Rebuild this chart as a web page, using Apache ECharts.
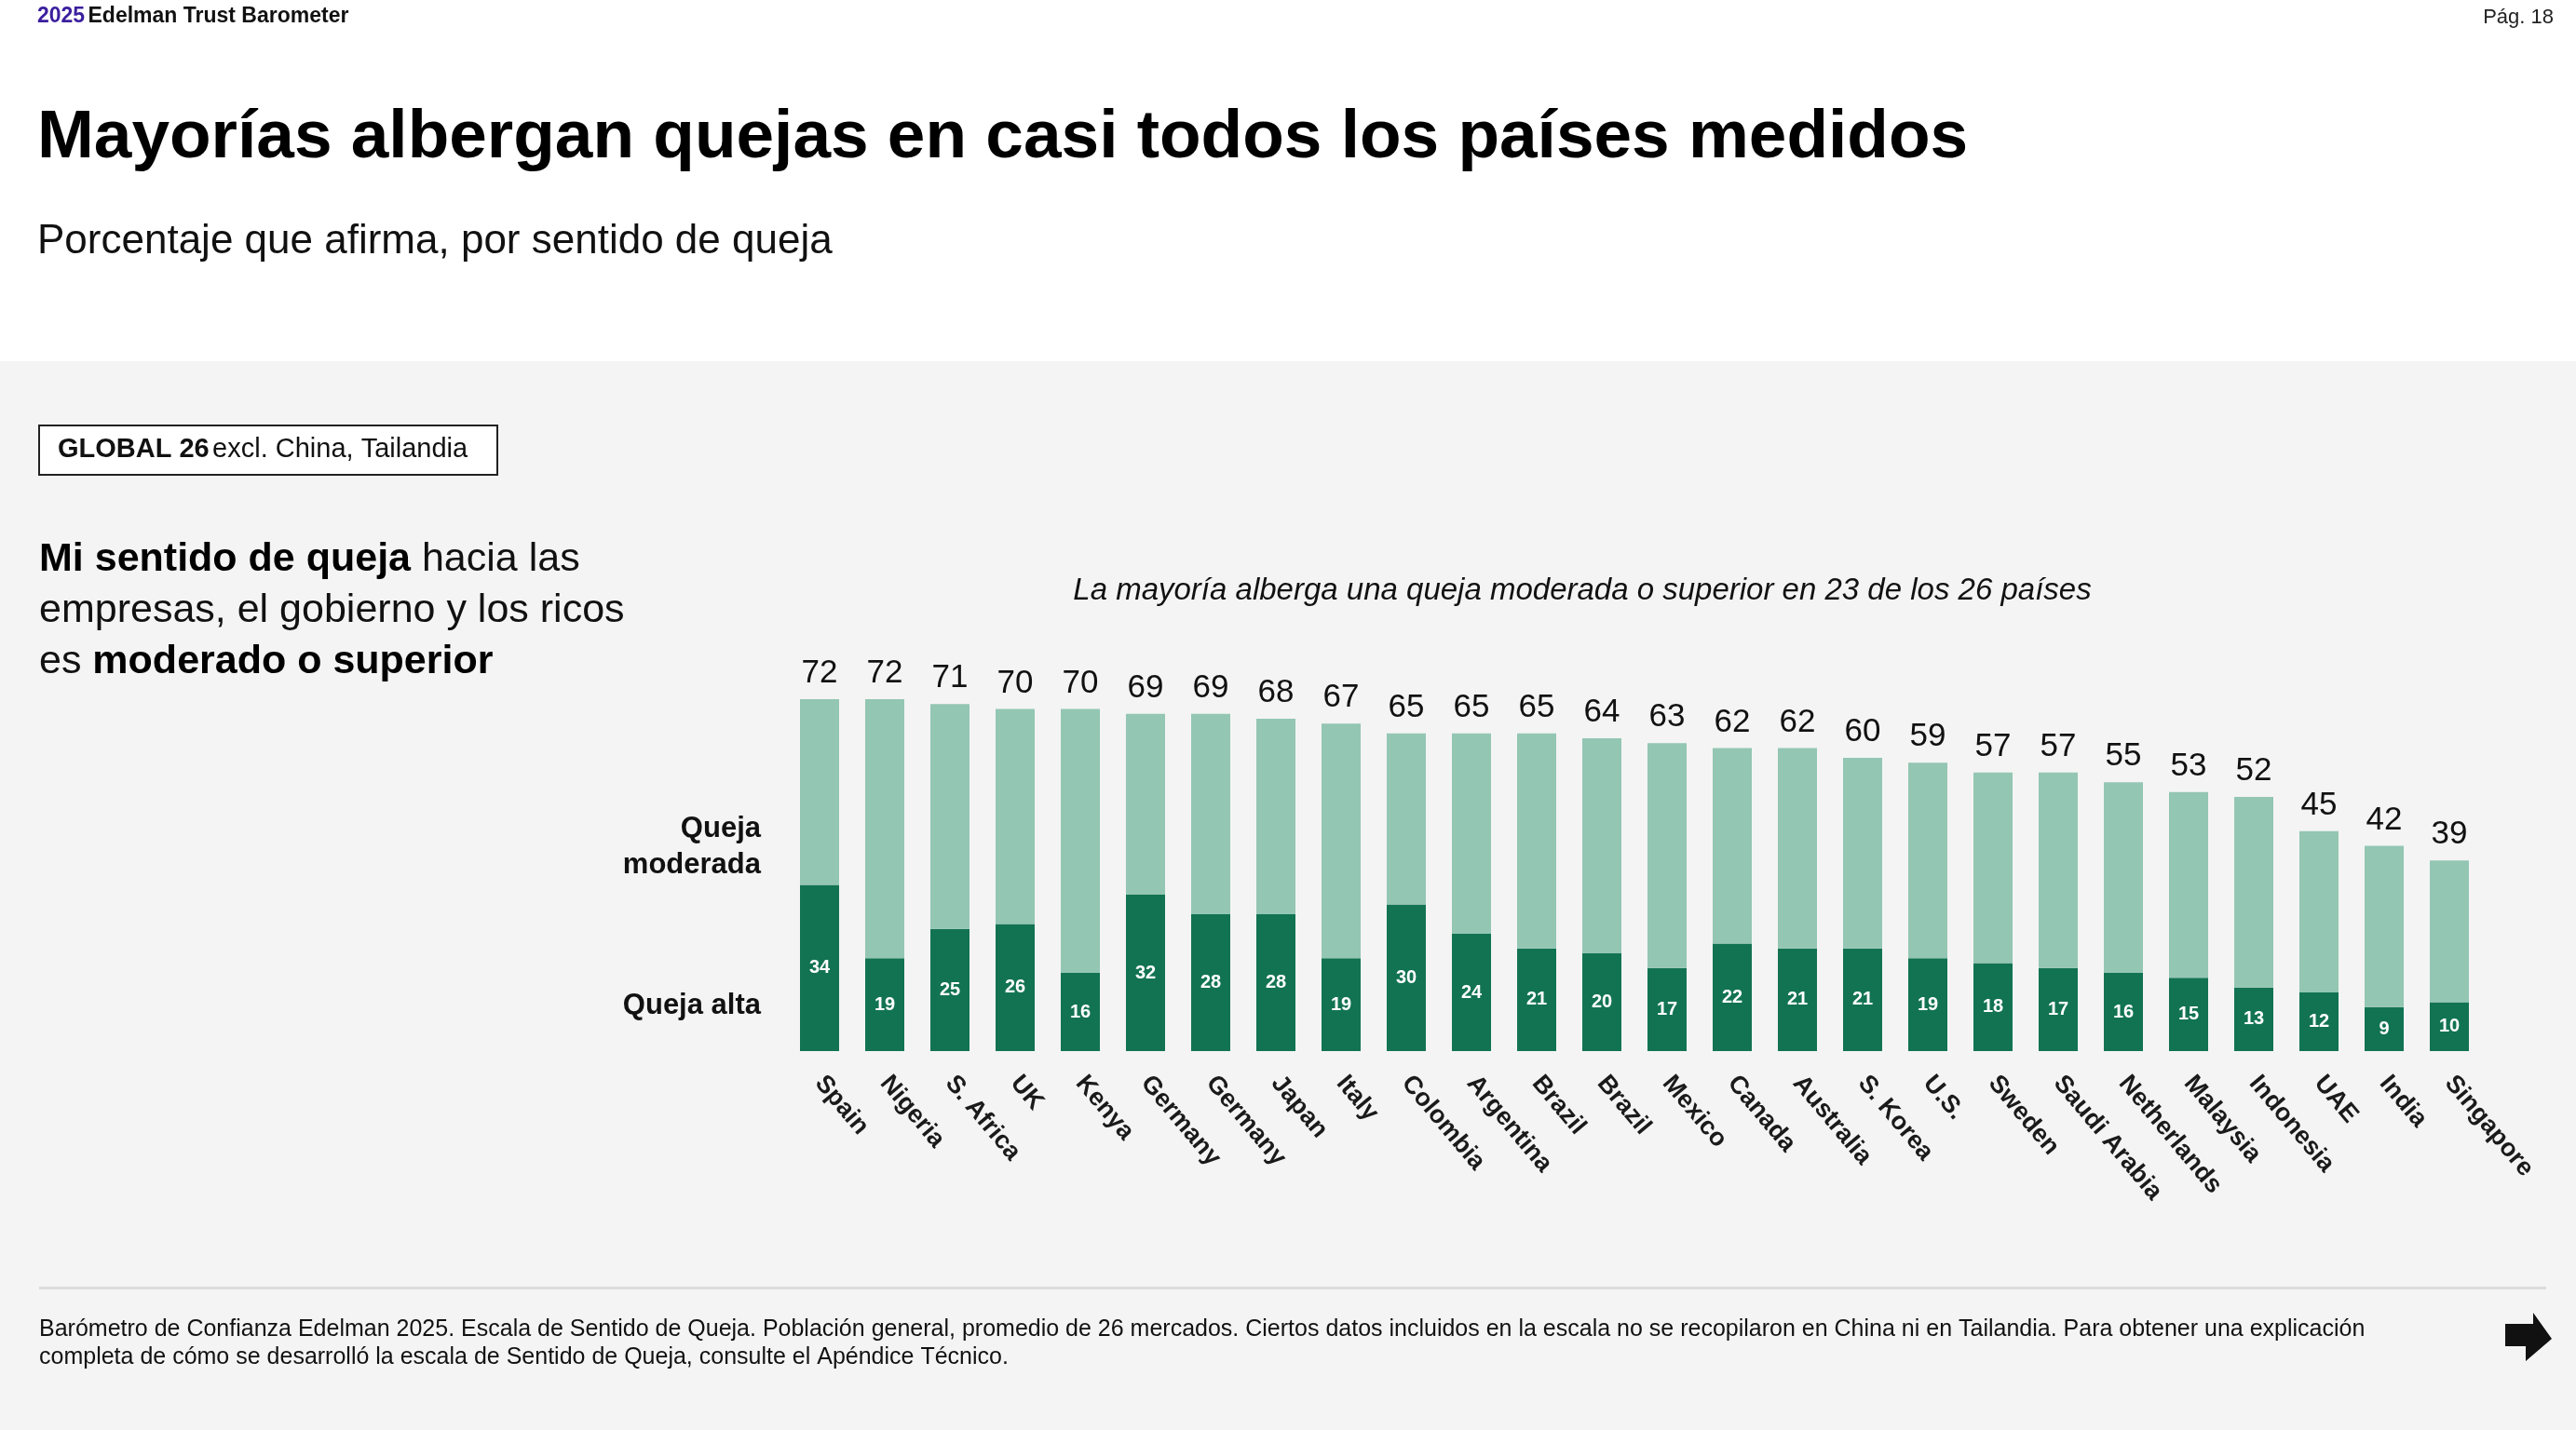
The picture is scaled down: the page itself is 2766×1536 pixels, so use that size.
<!DOCTYPE html>
<html>
<head>
<meta charset="utf-8">
<title>Edelman Trust Barometer 2025</title>
<script src="https://cdn.jsdelivr.net/npm/echarts@6/dist/echarts.min.js"></script>
<style>html,body{margin:0;padding:0;background:#fff}</style>
</head>
<body>
<div id="main" style="width:2766px;height:1536px"></div>
<script type="text/javascript">
// datos
var countries = ['Spain','Nigeria','S. Africa','UK','Kenya','Germany','Germany','Japan','Italy','Colombia','Argentina','Brazil','Brazil','Mexico','Canada','Australia','S. Korea','U.S.','Sweden','Saudi Arabia','Netherlands','Malaysia','Indonesia','UAE','India','Singapore'];
var totals = [72,72,71,70,70,69,69,68,67,65,65,65,64,63,62,62,60,59,57,57,55,53,52,45,42,39];
var high = [34,19,25,26,16,32,28,28,19,30,24,21,20,17,22,21,21,19,18,17,16,15,13,12,9,10];
var moderate = totals.map(function (t, i) { return t - high[i]; });

var font = '"Liberation Sans", Arial, sans-serif';

var option = {
    backgroundColor: '#ffffff',
    textStyle: { fontFamily: font },
    grid: { left: 845, right: 101, top: 604, bottom: 407 },
    xAxis: {
        type: 'category',
        data: countries,
        axisLine: { show: false },
        axisTick: { show: false },
        axisLabel: {
            interval: 0, rotate: -50, margin: 30,
            fontSize: 27, fontWeight: 'bold', color: '#1a1a1a', fontFamily: font
        }
    },
    yAxis: { type: 'value', min: 0, max: 100, show: false },
    graphic: [
        { type: 'rect', shape: { x: 0, y: 388, width: 2766, height: 1148 }, style: { fill: '#f4f4f4' }, z: -10 },
        { type: 'text', left: 40, top: 6, style: { rich: { a: { fill: '#3b1f9e', fontSize: 23, fontWeight: 'bold', fontFamily: font }, b: { fill: '#111', fontSize: 23, fontWeight: 'bold', fontFamily: font } }, text: '{a|2025} {b|Edelman Trust Barometer}' } },
        { type: 'text', right: 24, top: 8, style: { text: 'Pág. 18', fill: '#222', fontSize: 22, fontFamily: font } },
        { type: 'text', left: 40, top: 112, style: { text: 'Mayorías albergan quejas en casi todos los países medidos', fill: '#000', fontSize: 73, fontWeight: 'bold', fontFamily: font } },
        { type: 'text', left: 40, top: 238, style: { text: 'Porcentaje que afirma, por sentido de queja', fill: '#111', fontSize: 44, fontFamily: font } },
        { type: 'rect', shape: { x: 42, y: 457, width: 492, height: 53 }, style: { fill: '#fff', stroke: '#222', lineWidth: 2 } },
        { type: 'text', left: 62, top: 468, style: { rich: { a: { fill: '#111', fontSize: 29, fontWeight: 'bold', fontFamily: font }, b: { fill: '#111', fontSize: 29, fontFamily: font } }, text: '{a|GLOBAL 26} {b|excl. China, Tailandia}' } },
        { type: 'text', left: 42, top: 580, style: {
            rich: { a: { fill: '#000', fontSize: 43, fontWeight: 'bold', fontFamily: font, lineHeight: 55 }, b: { fill: '#111', fontSize: 43, fontFamily: font, lineHeight: 55 } },
            text: '{a|Mi sentido de queja}{b| hacia las}\n{b|empresas, el gobierno y los ricos}\n{b|es }{a|moderado o superior}' } },
        { type: 'text', x: 1699, y: 635, style: { text: 'La mayoría alberga una queja moderada o superior en 23 de los 26 países', fill: '#111', fontSize: 33, fontStyle: 'italic', fontFamily: font, align: 'center', verticalAlign: 'middle' } },
        { type: 'text', x: 817, y: 910, style: { text: 'Queja\nmoderada', fill: '#111', fontSize: 31, fontWeight: 'bold', fontFamily: font, align: 'right', verticalAlign: 'middle', lineHeight: 39 } },
        { type: 'text', x: 817, y: 1080, style: { text: 'Queja alta', fill: '#111', fontSize: 31, fontWeight: 'bold', fontFamily: font, align: 'right', verticalAlign: 'middle' } },
        { type: 'rect', shape: { x: 42, y: 1382, width: 2692, height: 3 }, style: { fill: '#dcdcdc' } },
        { type: 'text', left: 42, top: 1413, style: { text: 'Barómetro de Confianza Edelman 2025. Escala de Sentido de Queja. Población general, promedio de 26 mercados. Ciertos datos incluidos en la escala no se recopilaron en China ni en Tailandia. Para obtener una explicación\ncompleta de cómo se desarrolló la escala de Sentido de Queja, consulte el Apéndice Técnico.', fill: '#111', fontSize: 25, fontFamily: font, lineHeight: 30 } },
        { type: 'polygon', shape: { points: [[2690, 1422], [2720, 1422], [2720, 1410], [2740, 1438], [2712, 1462], [2712, 1446], [2690, 1446]] }, style: { fill: '#111' } }
    ],
    series: [
        {
            name: 'Queja alta', type: 'bar', stack: 'q', barWidth: '60%',
            data: high,
            itemStyle: { color: '#127353' },
            label: { show: true, position: 'inside', color: '#fff', fontSize: 20, fontWeight: 'bold', fontFamily: font }
        },
        {
            name: 'Queja moderada', type: 'bar', stack: 'q',
            data: moderate,
            itemStyle: { color: '#93c6b3' },
            label: {
                show: true, position: 'top', distance: 10, color: '#111', fontSize: 35, fontFamily: font,
                formatter: function (p) { return totals[p.dataIndex]; }
            }
        }
    ]
};

var myChart = echarts.init(document.getElementById('main'));
myChart.setOption(option);
</script>
</body>
</html>
